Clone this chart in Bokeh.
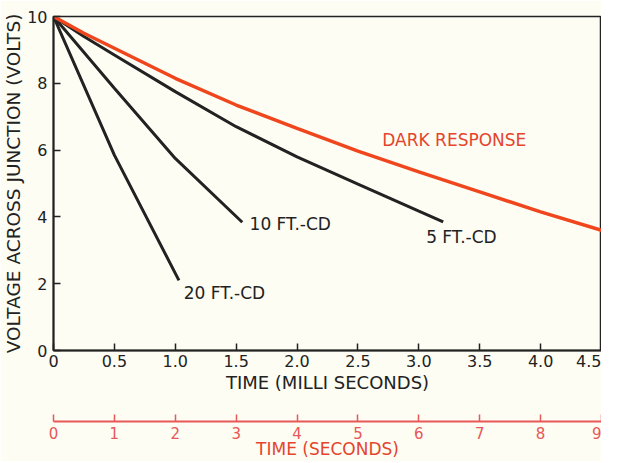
from bokeh.plotting import figure
from bokeh.models import LinearAxis, Range1d, FixedTicker, Label
from bokeh.embed import file_html
from bokeh.resources import INLINE

# ---- data ----
dark_t = [0, 0.25, 0.5, 1.0, 1.5, 2.0, 2.5, 3.0, 3.5, 4.0, 4.5]
dark_v = [10, 9.5, 9.05, 8.15, 7.35, 6.65, 5.97, 5.35, 4.75, 4.15, 3.6]

fc5_t = [0, 0.25, 0.5, 1.0, 1.5, 2.0, 2.5, 3.0, 3.2]
fc5_v = [10, 9.4, 8.85, 7.75, 6.7, 5.8, 4.98, 4.17, 3.85]

fc10_t = [0, 0.5, 1.0, 1.55]
fc10_v = [10, 7.85, 5.75, 3.84]

fc20_t = [0, 0.5, 1.03]
fc20_v = [10, 5.85, 2.1]

ms_ticks = [0, 0.5, 1.0, 1.5, 2.0, 2.5, 3.0, 3.5, 4.0, 4.5]
ms_labels = ["0", "0.5", "1.0", "1.5", "2.0", "2.5", "3.0", "3.5", "4.0", "4.5"]
sec_ticks = [0, 1, 2, 3, 4, 5, 6, 7, 8, 9]
v_ticks = [0, 2, 4, 6, 8, 10]

BG = "#fdfdf4"
INK = "#222222"
RED_LINE = "#f0461e"
RED_TXT = "#e4452c"
RED_AX = "#e85858"
FONT = "DejaVu Sans"

p = figure(width=601, height=461, x_range=Range1d(0, 4.5), y_range=Range1d(0, 10),
           output_backend="svg", toolbar_location=None,
           min_border_left=45, min_border_right=0, min_border_top=16, min_border_bottom=10,
           background_fill_color=BG, border_fill_color=BG)
p.grid.visible = False
p.outline_line_color = INK
p.outline_line_width = 1.5

def style(ax, color, label_color, lsize, tsize, lstand, tstand):
    ax.axis_line_color = color
    ax.axis_line_width = 2
    ax.major_tick_line_color = color
    ax.major_tick_line_width = 1.5
    ax.major_tick_in = 7
    ax.major_tick_out = 0
    ax.minor_tick_line_color = None
    ax.major_label_text_font = FONT
    ax.major_label_text_font_size = lsize
    ax.major_label_text_color = color
    ax.major_label_standoff = lstand
    ax.axis_label_text_font = FONT
    ax.axis_label_text_font_size = tsize
    ax.axis_label_text_font_style = "normal"
    ax.axis_label_text_color = label_color
    ax.axis_label_standoff = tstand

# main x axis
xa = p.xaxis[0]
xa.ticker = FixedTicker(ticks=ms_ticks)
xa.major_label_overrides = {t: l for t, l in zip(ms_ticks, ms_labels)}
xa.axis_label = "TIME (MILLI SECONDS)"
style(xa, INK, INK, "16px", "18px", 4, 2)

ya = p.yaxis[0]
ya.ticker = FixedTicker(ticks=v_ticks)
ya.axis_label = "VOLTAGE ACROSS JUNCTION (VOLTS)"
style(ya, INK, INK, "16px", "18.5px", 6, 0)

# seconds axis
p.extra_x_ranges = {"sec": Range1d(0, 9)}
spacer = LinearAxis(x_range_name="sec", ticker=FixedTicker(ticks=[]),
                    axis_line_color=None, major_tick_line_color=None, minor_tick_line_color=None,
                    axis_label=".", axis_label_text_color=None, axis_label_text_font_size="34px",
                    axis_label_standoff=0, major_label_text_font_size="1px")
p.add_layout(spacer, "below")

sa = LinearAxis(x_range_name="sec", ticker=FixedTicker(ticks=sec_ticks))
sa.axis_label = "TIME (SECONDS)"
style(sa, RED_AX, RED_TXT, "15px", "17px", 5, -3)
p.add_layout(sa, "below")

# curves
p.line(fc20_t, fc20_v, line_color=INK, line_width=3)
p.line(fc10_t, fc10_v, line_color=INK, line_width=3)
p.line(fc5_t, fc5_v, line_color=INK, line_width=3)
p.line(dark_t, dark_v, line_color=RED_LINE, line_width=3.5)

# annotations
def lab(x, y, text, color):
    p.add_layout(Label(x=x, y=y, text=text, text_font=FONT, text_font_size="17px",
                       text_color=color, text_align="left", text_baseline="middle"))

lab(2.7, 6.3, "DARK RESPONSE", RED_TXT)
lab(1.61, 3.78, "10 FT.-CD", INK)
lab(3.06, 3.39, "5 FT.-CD", INK)
lab(1.07, 1.71, "20 FT.-CD", INK)

open("out.html", "w").write(file_html(p, INLINE))
